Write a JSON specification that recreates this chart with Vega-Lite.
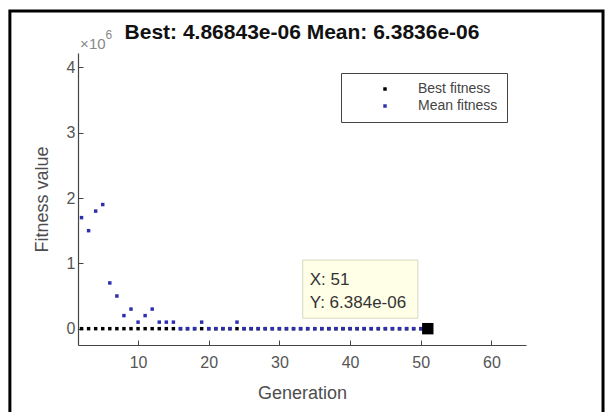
{
  "$schema": "https://vega.github.io/schema/vega-lite/v6.json",
  "autosize": {"type": "none"},
  "width": 448,
  "height": 292,
  "padding": {"left": 78, "top": 53, "right": 80, "bottom": 67},
  "background": "#ffffff",
  "config": {
    "font": "Liberation Sans",
    "view": {"stroke": null},
    "axis": {"grid": false, "domainColor": "#444", "tickColor": "#444", "labelColor": "#555", "titleColor": "#4d4d4d", "labelFont": "Liberation Sans", "titleFont": "Liberation Sans", "titleFontWeight": "normal", "labelFontSize": 16, "titleFontSize": 18, "tickSize": -5, "domainWidth": 1.2}
  },
  "title": {"text": "Best: 4.86843e-06 Mean: 6.3836e-06", "font": "Liberation Sans", "fontSize": 21, "fontWeight": "bold", "color": "#111", "anchor": "middle", "baseline": "alphabetic", "offset": -50},
  "datasets": {
    "fitness": [
      {"gen": 2, "series": "Best fitness", "value": 0}, {"gen": 3, "series": "Best fitness", "value": 0}, {"gen": 4, "series": "Best fitness", "value": 0}, {"gen": 5, "series": "Best fitness", "value": 0}, {"gen": 6, "series": "Best fitness", "value": 0}, {"gen": 7, "series": "Best fitness", "value": 0}, {"gen": 8, "series": "Best fitness", "value": 0}, {"gen": 9, "series": "Best fitness", "value": 0}, {"gen": 10, "series": "Best fitness", "value": 0}, {"gen": 11, "series": "Best fitness", "value": 0},
      {"gen": 12, "series": "Best fitness", "value": 0}, {"gen": 13, "series": "Best fitness", "value": 0}, {"gen": 14, "series": "Best fitness", "value": 0}, {"gen": 15, "series": "Best fitness", "value": 0}, {"gen": 16, "series": "Best fitness", "value": 0}, {"gen": 17, "series": "Best fitness", "value": 0}, {"gen": 18, "series": "Best fitness", "value": 0}, {"gen": 19, "series": "Best fitness", "value": 0}, {"gen": 20, "series": "Best fitness", "value": 0}, {"gen": 21, "series": "Best fitness", "value": 0},
      {"gen": 22, "series": "Best fitness", "value": 0}, {"gen": 23, "series": "Best fitness", "value": 0}, {"gen": 24, "series": "Best fitness", "value": 0}, {"gen": 25, "series": "Best fitness", "value": 0}, {"gen": 26, "series": "Best fitness", "value": 0}, {"gen": 27, "series": "Best fitness", "value": 0}, {"gen": 28, "series": "Best fitness", "value": 0}, {"gen": 29, "series": "Best fitness", "value": 0}, {"gen": 30, "series": "Best fitness", "value": 0}, {"gen": 31, "series": "Best fitness", "value": 0},
      {"gen": 32, "series": "Best fitness", "value": 0}, {"gen": 33, "series": "Best fitness", "value": 0}, {"gen": 34, "series": "Best fitness", "value": 0}, {"gen": 35, "series": "Best fitness", "value": 0}, {"gen": 36, "series": "Best fitness", "value": 0}, {"gen": 37, "series": "Best fitness", "value": 0}, {"gen": 38, "series": "Best fitness", "value": 0}, {"gen": 39, "series": "Best fitness", "value": 0}, {"gen": 40, "series": "Best fitness", "value": 0}, {"gen": 41, "series": "Best fitness", "value": 0},
      {"gen": 42, "series": "Best fitness", "value": 0}, {"gen": 43, "series": "Best fitness", "value": 0}, {"gen": 44, "series": "Best fitness", "value": 0}, {"gen": 45, "series": "Best fitness", "value": 0}, {"gen": 46, "series": "Best fitness", "value": 0}, {"gen": 47, "series": "Best fitness", "value": 0}, {"gen": 48, "series": "Best fitness", "value": 0}, {"gen": 49, "series": "Best fitness", "value": 0}, {"gen": 50, "series": "Best fitness", "value": 0}, {"gen": 51, "series": "Best fitness", "value": 0},
      {"gen": 2, "series": "Mean fitness", "value": 1.7}, {"gen": 3, "series": "Mean fitness", "value": 1.5}, {"gen": 4, "series": "Mean fitness", "value": 1.8}, {"gen": 5, "series": "Mean fitness", "value": 1.9}, {"gen": 6, "series": "Mean fitness", "value": 0.7}, {"gen": 7, "series": "Mean fitness", "value": 0.5}, {"gen": 8, "series": "Mean fitness", "value": 0.2}, {"gen": 9, "series": "Mean fitness", "value": 0.3}, {"gen": 10, "series": "Mean fitness", "value": 0.1}, {"gen": 11, "series": "Mean fitness", "value": 0.2},
      {"gen": 12, "series": "Mean fitness", "value": 0.3}, {"gen": 13, "series": "Mean fitness", "value": 0.1}, {"gen": 14, "series": "Mean fitness", "value": 0.1}, {"gen": 15, "series": "Mean fitness", "value": 0.1}, {"gen": 16, "series": "Mean fitness", "value": 0}, {"gen": 17, "series": "Mean fitness", "value": 0}, {"gen": 18, "series": "Mean fitness", "value": 0}, {"gen": 19, "series": "Mean fitness", "value": 0.1}, {"gen": 20, "series": "Mean fitness", "value": 0}, {"gen": 21, "series": "Mean fitness", "value": 0},
      {"gen": 22, "series": "Mean fitness", "value": 0}, {"gen": 23, "series": "Mean fitness", "value": 0}, {"gen": 24, "series": "Mean fitness", "value": 0.1}, {"gen": 25, "series": "Mean fitness", "value": 0}, {"gen": 26, "series": "Mean fitness", "value": 0}, {"gen": 27, "series": "Mean fitness", "value": 0}, {"gen": 28, "series": "Mean fitness", "value": 0}, {"gen": 29, "series": "Mean fitness", "value": 0}, {"gen": 30, "series": "Mean fitness", "value": 0}, {"gen": 31, "series": "Mean fitness", "value": 0},
      {"gen": 32, "series": "Mean fitness", "value": 0}, {"gen": 33, "series": "Mean fitness", "value": 0}, {"gen": 34, "series": "Mean fitness", "value": 0}, {"gen": 35, "series": "Mean fitness", "value": 0}, {"gen": 36, "series": "Mean fitness", "value": 0}, {"gen": 37, "series": "Mean fitness", "value": 0}, {"gen": 38, "series": "Mean fitness", "value": 0}, {"gen": 39, "series": "Mean fitness", "value": 0}, {"gen": 40, "series": "Mean fitness", "value": 0}, {"gen": 41, "series": "Mean fitness", "value": 0},
      {"gen": 42, "series": "Mean fitness", "value": 0}, {"gen": 43, "series": "Mean fitness", "value": 0}, {"gen": 44, "series": "Mean fitness", "value": 0}, {"gen": 45, "series": "Mean fitness", "value": 0}, {"gen": 46, "series": "Mean fitness", "value": 0}, {"gen": 47, "series": "Mean fitness", "value": 0}, {"gen": 48, "series": "Mean fitness", "value": 0}, {"gen": 49, "series": "Mean fitness", "value": 0}, {"gen": 50, "series": "Mean fitness", "value": 0}, {"gen": 51, "series": "Mean fitness", "value": 0}
    ],
    "tip": [{"gen": 51, "value": 0, "xlabel": "X: 51", "ylabel": "Y: 6.384e-06"}]
  },
  "layer": [
    {
      "data": {"name": "tip"},
      "mark": {"type": "rect", "fill": "#ffffe8", "stroke": "#d8d8c0", "strokeWidth": 1},
      "encoding": {
        "x": {"datum": 33.3, "type": "quantitative", "scale": {"domain": [1.5, 64.9], "nice": false, "zero": false}},
        "x2": {"datum": 49.6},
        "y": {"datum": 1.05, "type": "quantitative"},
        "y2": {"datum": 0.16}
      }
    },
    {
      "data": {"name": "fitness"},
      "mark": {"type": "point", "shape": "square", "filled": true, "size": 12, "opacity": 1},
      "encoding": {
        "x": {"field": "gen", "type": "quantitative", "title": "Generation", "scale": {"domain": [1.5, 64.9], "nice": false, "zero": false},
          "axis": {"values": [10, 20, 30, 40, 50, 60], "labelPadding": 14, "titlePadding": 14}},
        "y": {"field": "value", "type": "quantitative", "title": "Fitness value", "scale": {"domain": [-0.25, 4.22], "nice": false, "zero": false},
          "axis": {"values": [0, 1, 2, 3, 4], "format": "d", "labelPadding": 8, "titlePadding": 15}},
        "color": {"field": "series", "type": "nominal", "sort": null,
          "scale": {"domain": ["Best fitness", "Mean fitness"], "range": ["#000000", "#2e2eb0"]},
          "legend": {"title": null, "orient": "none", "legendX": 263, "legendY": 20, "strokeColor": "#444", "fillColor": "#ffffff", "padding": 9, "symbolOffset": 28, "labelOffset": 26, "labelFontSize": 14, "labelColor": "#444", "labelFont": "Liberation Sans", "symbolSize": 12, "rowPadding": 3}}
      }
    },
    {
      "data": {"name": "tip"},
      "mark": {"type": "square", "size": 130, "color": "#000000", "opacity": 1},
      "encoding": {
        "x": {"field": "gen", "type": "quantitative"},
        "y": {"field": "value", "type": "quantitative"}
      }
    },
    {
      "data": {"name": "tip"},
      "mark": {"type": "text", "align": "left", "baseline": "alphabetic", "fontSize": 17, "color": "#333"},
      "encoding": {
        "x": {"datum": 34.3, "type": "quantitative"},
        "y": {"datum": 0.666, "type": "quantitative"},
        "text": {"field": "xlabel"}
      }
    },
    {
      "data": {"name": "tip"},
      "mark": {"type": "text", "align": "left", "baseline": "alphabetic", "fontSize": 17, "color": "#333"},
      "encoding": {
        "x": {"datum": 34.3, "type": "quantitative"},
        "y": {"datum": 0.314, "type": "quantitative"},
        "text": {"field": "ylabel"}
      }
    },
    {
      "data": {"values": [{"t": "×10"}]},
      "mark": {"type": "text", "align": "left", "baseline": "alphabetic", "fontSize": 15, "color": "#888"},
      "encoding": {
        "x": {"datum": 1.8, "type": "quantitative"},
        "y": {"datum": 4.28, "type": "quantitative"},
        "text": {"field": "t"}
      }
    },
    {
      "data": {"values": [{"t": "6"}]},
      "mark": {"type": "text", "align": "left", "baseline": "alphabetic", "fontSize": 12, "color": "#888"},
      "encoding": {
        "x": {"datum": 5.4, "type": "quantitative"},
        "y": {"datum": 4.44, "type": "quantitative"},
        "text": {"field": "t"}
      }
    },
    {
      "data": {"values": [{}]},
      "mark": {"type": "rect", "fill": null, "fillOpacity": 0, "stroke": "#000000", "strokeWidth": 3},
      "encoding": {
        "x": {"datum": -8.14, "type": "quantitative"},
        "x2": {"datum": 75.8},
        "y": {"datum": 4.862, "type": "quantitative"},
        "y2": {"datum": -1.45}
      }
    }
  ]
}
